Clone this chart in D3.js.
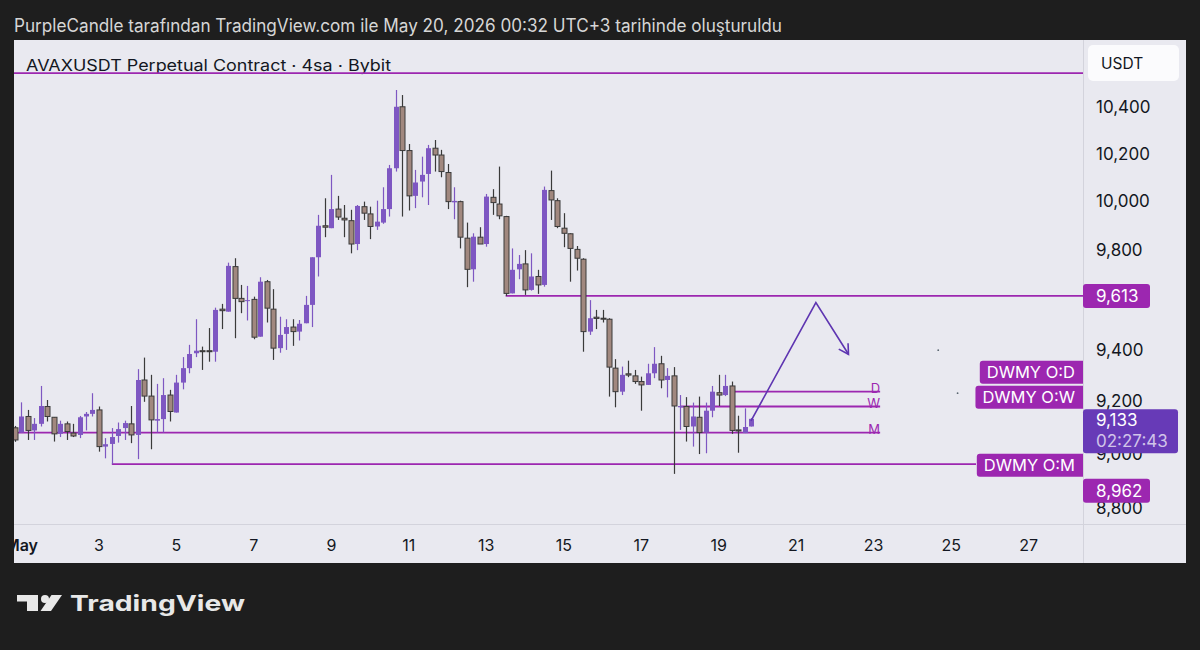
<!DOCTYPE html>
<html>
<head>
<meta charset="utf-8">
<script src="https://cdn.jsdelivr.net/npm/d3@7"></script>
<style>
  body { margin: 0; background: #1e1e1e; }
  svg { display: block; font-family: Inter, "Noto Sans", sans-serif; }
</style>
</head>
<body>
<div id="chart"></div>
<script>
// ─── DATA (4h candles, times shown in UTC+3) ───────────────────────────
const opens = [9099,9081,9142,9089,9114,9180,9139,9076,9114,9079,9072,9142,9152,9167,9028,9038,9068,9098,9114,9072,
  9282,9220,9126,9132,9224,9157,9272,9328,9386,9396,9396,9392,9560,9550,9731,9603,9594,9599,9451,9670,
  9560,9406,9462,9489,9471,9504,9577,9769,9898,9888,9967,9929,9919,9823,9977,9947,9895,9911,9967,10138,
  10401,10213,10022,10082,10114,10223,10194,10120,9995,9998,9847,9720,9851,9823,10016,9988,9936,9623,9720,9742,
  9637,9691,9657,10044,10002,9888,9865,9801,9761,9471,9528,9524,9520,9328,9237,9306,9298,9276,9263,9308,
  9345,9282,9298,9177,9180,9104,9139,9081,9164,9233,9224,9259,9091,9079,9104];
const highs = [9106,9196,9167,9136,9259,9205,9139,9126,9123,9114,9144,9159,9231,9180,9060,9098,9119,9126,9182,9324,
  9369,9302,9267,9289,9244,9302,9371,9419,9520,9412,9485,9566,9581,9747,9765,9657,9653,9610,9688,9677,
  9640,9530,9520,9520,9517,9613,9769,9943,10012,10110,10022,9984,9964,9984,9998,9977,10002,10058,10152,10474,
  10452,10241,10131,10187,10237,10258,10216,10156,10058,10002,9911,9867,9892,10030,10050,10145,9939,9805,9778,9798,
  9785,9718,10061,10128,10012,9950,9867,9815,9765,9596,9557,9557,9524,9363,9334,9357,9321,9295,9345,9410,
  9376,9328,9332,9224,9216,9195,9218,9195,9259,9302,9302,9276,9145,9173,9136];
const lows = [9046,9081,9053,9053,9104,9123,9047,9064,9053,9064,9060,9089,9142,9009,8984,8962,9043,9053,9041,8981,
  9198,9018,9081,9081,9123,9157,9246,9308,9371,9321,9353,9353,9481,9550,9445,9544,9515,9441,9451,9507,
  9360,9388,9399,9415,9436,9504,9489,9691,9851,9888,9922,9851,9785,9798,9922,9843,9881,9906,9936,10124,
  9936,9961,9971,10016,9984,10124,10100,9967,9925,9805,9648,9670,9823,9812,9943,9925,9613,9623,9680,9617,
  9634,9621,9650,9922,9888,9810,9670,9715,9392,9458,9481,9507,9218,9177,9224,9293,9267,9164,9263,9289,
  9250,9215,8926,9091,9047,9028,9000,9003,9139,9182,9220,9076,9005,9079,9104];
const closes = [9053,9142,9089,9114,9182,9142,9076,9114,9085,9068,9139,9152,9167,9028,9037,9064,9094,9117,9072,9282,
  9220,9129,9132,9224,9161,9272,9328,9383,9396,9392,9392,9557,9554,9734,9603,9590,9596,9449,9670,9564,
  9406,9458,9489,9471,9502,9577,9769,9898,9892,9967,9934,9922,9823,9980,9950,9895,9915,9967,10138,10401,
  10213,10022,10078,10110,10223,10194,10124,9998,10001,9851,9720,9853,9823,10019,9994,9939,9623,9718,9742,9637,
  9691,9657,10047,10005,9895,9867,9805,9765,9471,9524,9523,9520,9332,9237,9302,9301,9276,9263,9308,9345,
  9282,9298,9182,9182,9104,9142,9081,9164,9237,9224,9259,9089,9087,9102,9133];

const t = (day, hour, min = 0) => Date.UTC(2026, 4, day, hour, min);
const firstBar = t(0, 23);           // Apr 30 23:00
const barMs = 4 * 3600 * 1000;

// 9,600 is hidden by the 9,613 tag in the original, so it is left out
const priceTicks = [8800, 9000, 9200, 9400, 9800, 10000, 10200, 10400];
const dayTicks = [1, 3, 5, 7, 9, 11, 13, 15, 17, 19, 21, 23, 25, 27];
const dayTickLabels = ["May", "3", "5", "7", "9", "11", "13", "15", "17", "19", "21", "23", "25", "27"];

// horizontal levels
const topLevel = 10548;
const dwmyNames = ["D", "W", "M"];
const dwmyPrices = [9237, 9180, 9081];
const dwmyStarts = [t(19, 11), t(18, 3), t(0, 23)];
const dwmyEnd = t(23, 7);
const rayPrices = [9613, 8962];
const rayStarts = [t(13, 15), t(3, 11)];
const dwmyLabels = ["DWMY O:D", "DWMY O:W", "DWMY O:M"];
const dwmyLabelPrices = [9312, 9216, 8958];

// hand drawn arrow
const arrowPts = [[t(19, 23), 9125], [t(21, 15, 12), 9586], [t(22, 11, 24), 9382]];
const strayDots = [[t(24, 19), 9398], [t(25, 7), 9231]];

const lastPrice = 9133, countdown = "02:27:43";

// ─── LAYOUT ─────────────────────────────────────────────────────────────
const width = 1200, height = 650;
const plot = { x0: 14, y0: 40, x1: 1083, y1: 524 };
const panelRight = 1186, panelBottom = 563;

const upColor = "#7e57c2", downFill = "#a1887f", downLine = "#3a3a3a";
const levelColor = "#9c27b0", nowColor = "#673ab7", textColor = "#131722";

const svg = d3.select("#chart").append("svg")
  .attr("width", width).attr("height", height);

svg.append("rect").attr("width", width).attr("height", height).attr("fill", "#1e1e1e");
svg.append("rect")
  .attr("x", plot.x0).attr("y", plot.y0)
  .attr("width", panelRight - plot.x0).attr("height", panelBottom - plot.y0)
  .attr("fill", "#e9e9f0");

const defs = svg.append("defs");
defs.append("clipPath").attr("id", "plotClip").append("rect")
  .attr("x", plot.x0).attr("y", plot.y0)
  .attr("width", plot.x1 - plot.x0).attr("height", plot.y1 - plot.y0);
defs.append("clipPath").attr("id", "timeClip").append("rect")
  .attr("x", plot.x0).attr("y", plot.y1)
  .attr("width", plot.x1 - plot.x0).attr("height", panelBottom - plot.y1);

const x = d3.scaleUtc().domain([firstBar, t(19, 23)]).range([15, 751]);
const y = d3.scaleLog().domain([8800, 10400]).range([508, 107]);

// separators
svg.append("line").attr("x1", plot.x1 + 0.5).attr("x2", plot.x1 + 0.5)
  .attr("y1", plot.y0).attr("y2", panelBottom).attr("stroke", "#d3d3dc");
svg.append("line").attr("x1", plot.x0).attr("x2", panelRight)
  .attr("y1", plot.y1 + 0.5).attr("y2", plot.y1 + 0.5).attr("stroke", "#d3d3dc");

// ─── HEADER / LEGEND ───────────────────────────────────────────────────
svg.append("text").attr("x", 14).attr("y", 32)
  .attr("font-size", 18).attr("fill", "#d6d6d6")
  .attr("textLength", 768).attr("lengthAdjust", "spacingAndGlyphs")
  .text("PurpleCandle tarafından TradingView.com ile May 20, 2026 00:32 UTC+3 tarihinde oluşturuldu");

const g = svg.append("g").attr("clip-path", "url(#plotClip)");

g.append("text").attr("x", 26).attr("y", 71)
  .attr("font-size", 15.5).attr("fill", textColor)
  .attr("textLength", 365).attr("lengthAdjust", "spacingAndGlyphs")
  .text("AVAXUSDT Perpetual Contract · 4sa · Bybit");

// ─── LEVEL LINES ───────────────────────────────────────────────────────
g.append("line")
  .attr("x1", plot.x0).attr("x2", plot.x1)
  .attr("y1", y(topLevel)).attr("y2", y(topLevel))
  .attr("stroke", levelColor).attr("stroke-width", 1.8);

rayPrices.forEach((p, i) => {
  g.append("line")
    .attr("x1", x(rayStarts[i])).attr("x2", i === 0 ? plot.x1 : 976)
    .attr("y1", y(p)).attr("y2", y(p))
    .attr("stroke", levelColor).attr("stroke-width", 1.8);
});

dwmyPrices.forEach((p, i) => {
  g.append("line")
    .attr("x1", Math.max(plot.x0, x(dwmyStarts[i]))).attr("x2", x(dwmyEnd))
    .attr("y1", y(p)).attr("y2", y(p))
    .attr("stroke", levelColor).attr("stroke-width", 1.8);
  g.append("text")
    .attr("x", x(dwmyEnd)).attr("y", y(p) + 1)
    .attr("text-anchor", "end").attr("font-size", 13)
    .attr("fill", levelColor)
    .text(dwmyNames[i]);
});

// ─── CANDLES ───────────────────────────────────────────────────────────
const bars = opens.map((o, i) => ({
  t: firstBar + i * barMs, o, h: highs[i], l: lows[i], c: closes[i]
}));

const candle = g.selectAll("g.candle").data(bars).enter().append("g");

candle.append("line")
  .attr("x1", d => Math.round(x(d.t)) + 0.5).attr("x2", d => Math.round(x(d.t)) + 0.5)
  .attr("y1", d => y(d.h)).attr("y2", d => y(d.l))
  .attr("stroke", d => d.c >= d.o ? upColor : downLine)
  .attr("stroke-width", 1.2);

candle.append("rect")
  .attr("x", d => Math.round(x(d.t)) - 2)
  .attr("width", 5)
  .attr("y", d => y(Math.max(d.o, d.c)))
  .attr("height", d => Math.max(1, Math.abs(y(d.o) - y(d.c))))
  .attr("fill", d => d.c >= d.o ? upColor : downFill)
  .attr("stroke", d => d.c >= d.o ? "none" : downLine)
  .attr("stroke-width", 1);

// ─── ARROW ─────────────────────────────────────────────────────────────
const arrowPx = arrowPts.map(([tt, p]) => [x(tt), y(p)]);
g.append("path")
  .attr("d", d3.line()(arrowPx))
  .attr("fill", "none").attr("stroke", "#5e35b1").attr("stroke-width", 1.6);
{
  const [a, b] = arrowPx.slice(-2);
  const ang = Math.atan2(b[1] - a[1], b[0] - a[0]) + Math.PI;
  const arms = [ang - Math.PI / 6, ang + Math.PI / 6].map(k => [b[0] + 11 * Math.cos(k), b[1] + 11 * Math.sin(k)]);
  g.append("path")
    .attr("d", d3.line()([arms[0], b, arms[1]]))
    .attr("fill", "none").attr("stroke", "#5e35b1").attr("stroke-width", 1.6);
}

g.selectAll("circle.dot").data(strayDots).enter().append("circle")
  .attr("cx", d => x(d[0])).attr("cy", d => y(d[1])).attr("r", 0.9)
  .attr("fill", "#5a6670");

// DWMY labels, right aligned at the pane edge
dwmyLabels.forEach((lab, i) => {
  const cy = y(dwmyLabelPrices[i]);
  const lg = g.append("g");
  const rect = lg.append("rect").attr("fill", levelColor).attr("rx", 3);
  const txt = lg.append("text")
    .attr("x", plot.x1 - 8).attr("y", cy + 6)
    .attr("text-anchor", "end").attr("font-size", 16.5).attr("fill", "#ffffff")
    .text(lab);
  const w = txt.node().getComputedTextLength() + 15;
  rect.attr("x", plot.x1 - w).attr("y", cy - 11.5).attr("width", w + 4).attr("height", 23);
});

// ─── TIME AXIS ─────────────────────────────────────────────────────────
svg.append("g").attr("clip-path", "url(#timeClip)")
  .selectAll("text").data(dayTicks).enter().append("text")
  .attr("x", d => x(t(d, 3)))
  .attr("y", 551)
  .attr("text-anchor", "middle")
  .attr("font-size", 16)
  .attr("font-weight", (d, i) => i === 0 ? 600 : 400)
  .attr("fill", textColor)
  .text((d, i) => dayTickLabels[i]);

// ─── PRICE AXIS ────────────────────────────────────────────────────────
const axisG = svg.append("g");
axisG.append("rect").attr("x", 1088).attr("y", 45).attr("width", 91).attr("height", 36)
  .attr("rx", 5).attr("fill", "#fbfbfd");
axisG.append("text").attr("x", 1101).attr("y", 68.5)
  .attr("font-size", 15.5).attr("fill", textColor).text("USDT");

axisG.selectAll("text.tick").data(priceTicks).enter().append("text")
  .attr("class", "tick")
  .attr("x", 1096).attr("y", d => y(d) + 6)
  .attr("font-size", 17).attr("fill", textColor)
  .text(d3.format(","));

function priceTag(top, h, w, fill) {
  axisG.append("rect").attr("x", plot.x1).attr("y", top)
    .attr("width", w).attr("height", h).attr("rx", 3).attr("fill", fill);
}
// 9,613
priceTag(y(rayPrices[0]) - 12, 24, 67, levelColor);
axisG.append("text").attr("x", 1096).attr("y", y(rayPrices[0]) + 6)
  .attr("font-size", 17).attr("fill", "#ffffff").text(d3.format(",")(rayPrices[0]));
// last price + countdown
priceTag(y(lastPrice) - 9.5, 44, 95, nowColor);
axisG.append("text").attr("x", 1096).attr("y", y(lastPrice) + 7.5)
  .attr("font-size", 17).attr("fill", "#ffffff").text(d3.format(",")(lastPrice));
axisG.append("text").attr("x", 1096).attr("y", y(lastPrice) + 28.5)
  .attr("font-size", 17).attr("fill", "#d1c4e9").text(countdown);
// 8,962 (pushed down below the last price tag)
priceTag(y(rayPrices[1]) + 14.5, 24, 67, levelColor);
axisG.append("text").attr("x", 1096).attr("y", y(rayPrices[1]) + 32.5)
  .attr("font-size", 17).attr("fill", "#ffffff").text(d3.format(",")(rayPrices[1]));

// ─── FOOTER LOGO ───────────────────────────────────────────────────────
const logo = svg.append("g").attr("fill", "#e8e8e8");
logo.append("path").attr("d", "M17,595 H38 V611 H27 V601.5 H17 Z");
logo.append("circle").attr("cx", 45).attr("cy", 599).attr("r", 4);
logo.append("path").attr("d", "M51.5,595 H62 L51,611 H40.5 Z");
logo.append("text").attr("x", 70).attr("y", 611)
  .attr("font-size", 22).attr("font-weight", 700)
  .attr("textLength", 175).attr("lengthAdjust", "spacingAndGlyphs")
  .text("TradingView");
</script>
</body>
</html>
